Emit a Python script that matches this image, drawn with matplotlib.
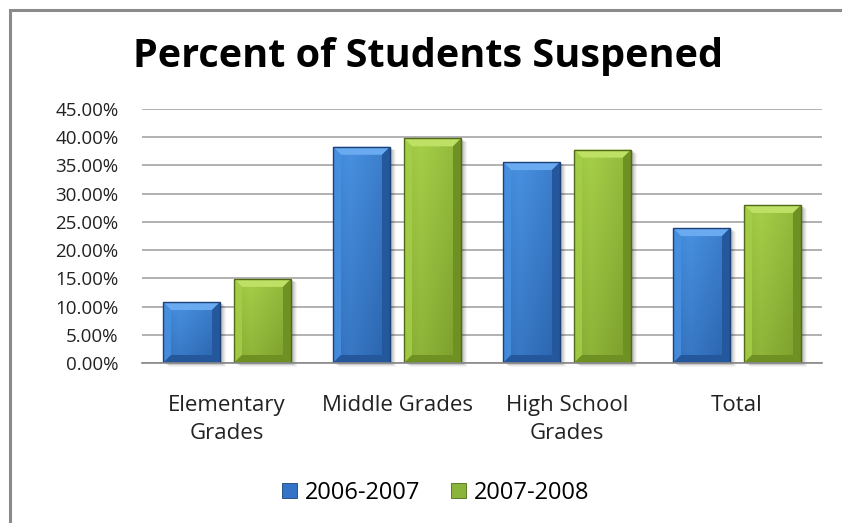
import numpy as np
import matplotlib.pyplot as plt
from matplotlib.patches import Polygon, Rectangle, Patch
from matplotlib.colors import LinearSegmentedColormap

# Suspension rates (percent of students)
categories = ['Elementary\nGrades', 'Middle Grades', 'High School\nGrades', 'Total']
years = ['2006-2007', '2007-2008']
pct_0607 = [10.8, 38.3, 35.6, 23.9]
pct_0708 = [14.9, 39.8, 37.8, 28.0]

plt.rcParams['font.family'] = ['Open Sans', 'DejaVu Sans']

W, H = 842, 523
fig = plt.figure(figsize=(W / 100, H / 100), dpi=100)
ax = fig.add_axes([142 / W, 160 / H, 680 / W, 254 / H])

# bar colours: face light/dark, top bevel, side bevel, edge
styles = {
    '2006-2007': dict(light='#4790e0', dark='#2a62ab', top='#69aaf0',
                      side='#24579c', edge='#1b4178', legend='#3474c8'),
    '2007-2008': dict(light='#a5ce48', dark='#7a9d2b', top='#bde065',
                      side='#6f9124', edge='#506a18', legend='#8ab43a'),
}

width = 57 / 170
offset = (57 + 14) / 170 / 2
x = np.arange(len(categories))

ax.set_xlim(-0.5, len(categories) - 0.5)
ax.set_ylim(0, 45)

# bevel size in data units (about 8 px)
bx = 8 / 170
by = 8 / 254 * 45


def fancy_bar(xc, h, st):
    x0, x1 = xc - width / 2, xc + width / 2
    # soft shadow
    for k, a in [(6, 0.04), (5, 0.05), (4, 0.06), (3, 0.07), (2, 0.09)]:
        ax.add_patch(Rectangle((x0 + k / 170, -k / 254 * 45 * 0.6), width, h,
                               fc='black', ec='none', alpha=a, zorder=2,
                               clip_on=False))
    # face gradient
    cmap = LinearSegmentedColormap.from_list('f', [st['light'], st['dark']])
    gx = np.linspace(0, 1, 60)
    gy = np.linspace(0, 1, 60)
    grid = 0.55 * gy[:, None] + 0.45 * np.abs(gx[None, :] - 0.3) / 0.7
    im = ax.imshow(grid, cmap=cmap, extent=(x0, x1, 0, h), origin='upper',
                   aspect='auto', zorder=3, interpolation='bilinear')
    rect = Rectangle((x0, 0), width, h, fc='none', ec='none')
    ax.add_patch(rect)
    im.set_clip_path(rect)
    # bevels
    ax.add_patch(Polygon([(x0, h), (x1, h), (x1 - bx, h - by), (x0 + bx, h - by)],
                         fc=st['top'], ec='none', zorder=4))
    ax.add_patch(Polygon([(x0, 0), (x0, h), (x0 + bx, h - by), (x0 + bx, by)],
                         fc=st['light'], ec='none', alpha=0.85, zorder=4))
    ax.add_patch(Polygon([(x1, 0), (x1, h), (x1 - bx, h - by), (x1 - bx, by)],
                         fc=st['side'], ec='none', zorder=4))
    ax.add_patch(Polygon([(x0, 0), (x1, 0), (x1 - bx, by), (x0 + bx, by)],
                         fc=st['side'], ec='none', zorder=4))
    ax.add_patch(Rectangle((x0, 0), width, h, fc='none', ec=st['edge'],
                           lw=1.0, zorder=5))


for xc, h in zip(x - offset, pct_0607):
    fancy_bar(xc, h, styles['2006-2007'])
for xc, h in zip(x + offset, pct_0708):
    fancy_bar(xc, h, styles['2007-2008'])

# axes styling
yt = np.arange(0, 46, 5)
ax.set_yticks(yt)
ax.set_yticklabels([f'{v:.2f}%' for v in yt], fontsize=13.5, color='#222222')
ax.set_xticks(x)
ax.set_xticklabels(categories, fontsize=16, color='#222222', linespacing=1.45)
ax.tick_params(axis='y', length=0, pad=17)
ax.tick_params(axis='x', length=0, pad=23)
ax.grid(axis='y', color='#9c9c9c', lw=1.1, zorder=0)
ax.set_axisbelow(True)
for s in ['left', 'right', 'top']:
    ax.spines[s].set_visible(False)
ax.spines['bottom'].set_color('#888888')
ax.spines['bottom'].set_linewidth(1.2)
ax.spines['bottom'].set_zorder(6)

fig.text(428 / W, 1 - 57 / H, 'Percent of Students Suspened', ha='center',
         va='center', fontsize=28.5, fontweight='bold', color='black')

handles = [Patch(fc=styles[y]['legend'], ec=styles[y]['edge'], lw=0.6) for y in years]
fig.legend(handles, years, loc='center', bbox_to_anchor=(436 / W, 1 - 493 / H),
           ncol=2, frameon=False, fontsize=17, handlelength=0.62, handleheight=0.62,
           handletextpad=0.35, columnspacing=1.3)

# outer chart border (top and left edges visible)
fig.add_artist(Rectangle((9.5 / W, -0.2), 1.2, (H - 9.5) / H + 0.2, fill=False,
                         lw=2.2, ec='#8a8a8a', transform=fig.transFigure))

fig.savefig('out.png', dpi=100, facecolor='white')
